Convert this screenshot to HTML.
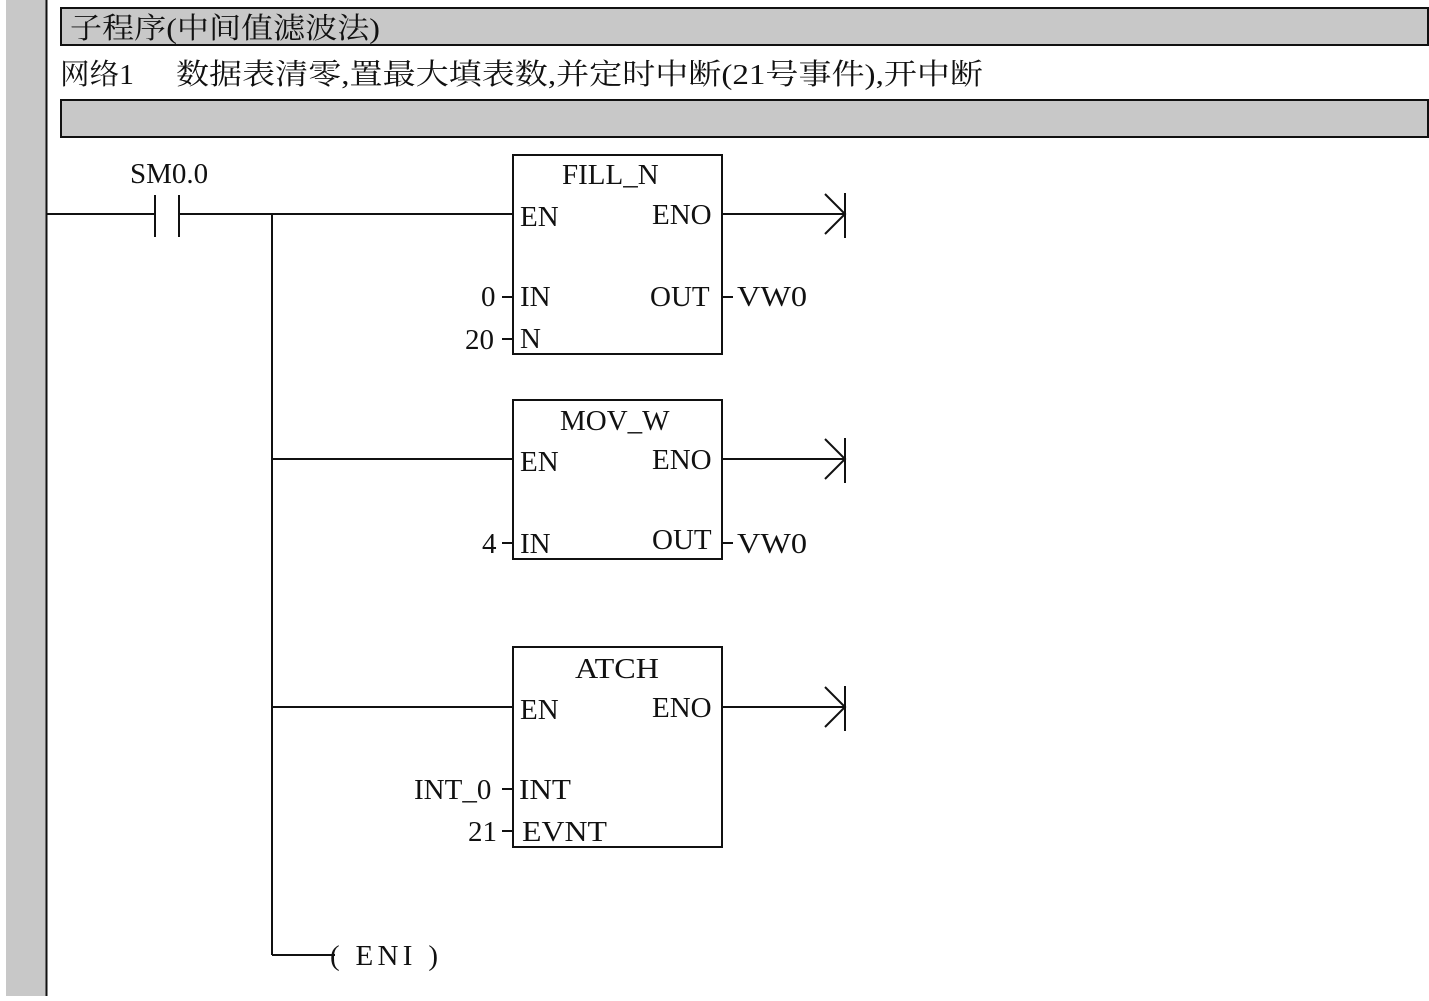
<!DOCTYPE html>
<html><head><meta charset="utf-8"><style>
body{margin:0;background:#fff}
svg text{font-family:"Liberation Serif","Noto Serif CJK SC",serif;font-size:29px;fill:#111}
</style></head><body>
<svg width="1429" height="996" viewBox="0 0 1429 996" xmlns="http://www.w3.org/2000/svg">
<rect x="6" y="0" width="40" height="996" fill="#c8c8c8"/>
<line x1="46.5" y1="0" x2="46.5" y2="996" stroke="#111" stroke-width="2"/>
<rect x="61" y="8" width="1367" height="37" fill="#c8c8c8" stroke="#111" stroke-width="2"/>
<text x="70" y="38" textLength="310" lengthAdjust="spacingAndGlyphs">子程序(中间值滤波法)</text>
<text x="60" y="84" textLength="74" lengthAdjust="spacingAndGlyphs">网络1</text>
<text x="176" y="84" textLength="807" lengthAdjust="spacingAndGlyphs">数据表清零,置最大填表数,并定时中断(21号事件),开中断</text>
<rect x="61" y="100" width="1367" height="37" fill="#c8c8c8" stroke="#111" stroke-width="2"/>
<g stroke="#111" stroke-width="2" fill="none">
<line x1="47" y1="214" x2="155" y2="214"/>
<line x1="155" y1="195" x2="155" y2="237"/>
<line x1="179" y1="195" x2="179" y2="237"/>
<line x1="179" y1="214" x2="513" y2="214"/>
<line x1="272" y1="214" x2="272" y2="955"/>
<line x1="272" y1="459" x2="513" y2="459"/>
<line x1="272" y1="707" x2="513" y2="707"/>
<line x1="272" y1="955" x2="335" y2="955"/>
<rect x="513" y="155" width="209" height="199"/>
<rect x="513" y="400" width="209" height="159"/>
<rect x="513" y="647" width="209" height="200"/>
<g><line x1="722" y1="214" x2="845" y2="214"/><polyline points="825,194 845,214 825,234"/><line x1="845" y1="193" x2="845" y2="238"/></g>
<g transform="translate(0,245)"><line x1="722" y1="214" x2="845" y2="214"/><polyline points="825,194 845,214 825,234"/><line x1="845" y1="193" x2="845" y2="238"/></g>
<g transform="translate(0,493)"><line x1="722" y1="214" x2="845" y2="214"/><polyline points="825,194 845,214 825,234"/><line x1="845" y1="193" x2="845" y2="238"/></g>
<line x1="502" y1="297" x2="513" y2="297"/><line x1="502" y1="339" x2="513" y2="339"/>
<line x1="722" y1="297" x2="733" y2="297"/>
<line x1="502" y1="543" x2="513" y2="543"/>
<line x1="722" y1="543" x2="733" y2="543"/>
<line x1="502" y1="789" x2="513" y2="789"/><line x1="502" y1="831" x2="513" y2="831"/>
</g>
<text x="130" y="183">SM0.0</text>
<text x="562" y="184">FILL_N</text>
<text x="520" y="226">EN</text><text x="652" y="224">ENO</text>
<text x="520" y="306">IN</text><text x="650" y="306">OUT</text><text x="737" y="306" textLength="70" lengthAdjust="spacingAndGlyphs">VW0</text>
<text x="481" y="306">0</text><text x="465" y="349">20</text><text x="520" y="348">N</text>
<text x="560" y="430">MOV_W</text>
<text x="520" y="471">EN</text><text x="652" y="469">ENO</text>
<text x="482" y="553">4</text><text x="520" y="553">IN</text><text x="652" y="549">OUT</text><text x="737" y="553" textLength="70" lengthAdjust="spacingAndGlyphs">VW0</text>
<text x="575" y="678" textLength="84" lengthAdjust="spacingAndGlyphs">ATCH</text>
<text x="520" y="719">EN</text><text x="652" y="717">ENO</text>
<text x="414" y="799">INT_0</text><text x="519" y="799" textLength="52" lengthAdjust="spacingAndGlyphs">INT</text>
<text x="468" y="841">21</text><text x="522" y="841" textLength="85" lengthAdjust="spacingAndGlyphs">EVNT</text>
<text x="330" y="965" textLength="108" lengthAdjust="spacing">( ENI )</text>
</svg>
</body></html>
